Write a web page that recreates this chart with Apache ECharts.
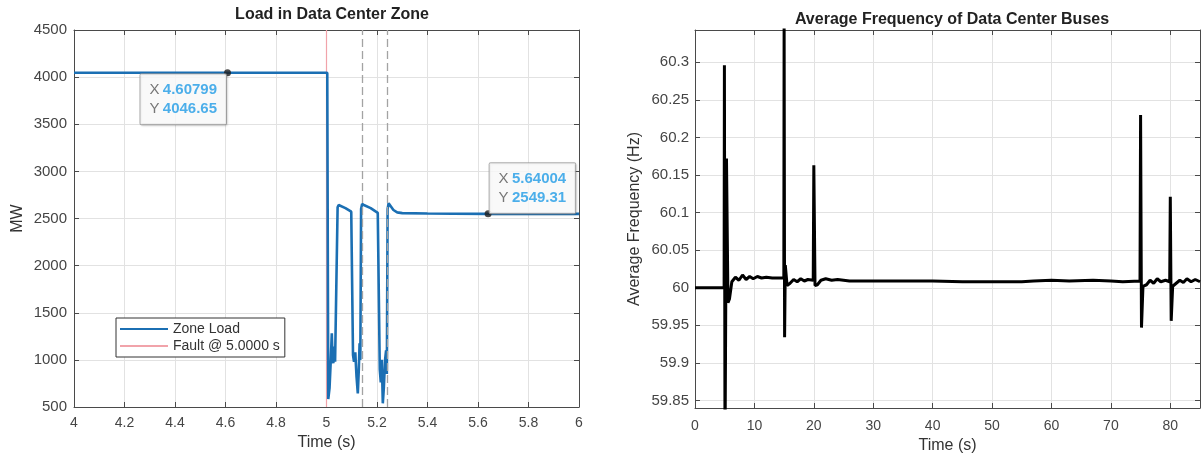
<!DOCTYPE html>
<html>
<head>
<meta charset="utf-8">
<title>Data Center Zone – Load and Frequency</title>
<script src="https://cdn.jsdelivr.net/npm/echarts@6/dist/echarts.min.js"></script>
<style>
  html, body { margin: 0; padding: 0; background: #fff; }
  #chart { width: 1202px; height: 459px; }
</style>
</head>
<body>
<div id="chart"></div>
<script>
// ---- Zone load trace (time in s, load in MW) ----
const loadTime = [
  4.0, 4.60799, 5.003, 5.007, 5.012, 5.017, 5.021, 5.024, 5.027, 5.031, 5.034, 5.038, 5.041,
  5.044, 5.048, 5.055, 5.075, 5.098, 5.101, 5.105, 5.109, 5.114, 5.119, 5.124, 5.128, 5.131,
  5.134, 5.137, 5.141, 5.150, 5.175, 5.203, 5.207, 5.211, 5.215, 5.219, 5.223, 5.227, 5.232,
  5.236, 5.239, 5.242, 5.246, 5.253, 5.265, 5.280, 5.300, 5.400, 5.500, 5.64004, 5.800, 6.0
];
const loadMW = [
  4046.65, 4046.65, 4046.65, 585, 700, 1000, 1282, 1000, 964, 1140, 980, 964, 1000,
  2620, 2643, 2630, 2610, 2572, 2560, 1050, 980, 1080, 820, 645, 900, 1176,
  1000, 2600, 2654, 2640, 2610, 2560, 2550, 900, 760, 1000, 539, 700, 999,
  1100, 850, 2600, 2661, 2640, 2590, 2565, 2557, 2553, 2551, 2549.31, 2549, 2549
];

// Fault instant and recloser markers
const faultTime = 5.0;
const recloseTimes = [5.137, 5.24];
const tagNames = ['R1', 'R2'];
const tagTime = [5.034, 5.267];
const tagMW = [4373, 609];

// Data tips on the load trace
const tipTime = [4.60799, 5.64004];
const tipMW = [4046.65, 2549.31];

// ---- Average bus frequency (time in s, frequency in Hz) ----
const freqTime = [
  0, 4.9, 4.95, 5.05, 5.3, 5.55, 5.8, 6.2, 6.8, 7.4, 8.0, 8.6, 9.2, 9.8, 10.5, 11.2, 12, 13, 14,
  14.95, 15.0, 15.08, 15.2, 15.5, 16, 16.6, 17.2, 17.8, 18.4, 19, 19.9,
  20.0, 20.2, 20.6, 21.2, 22, 23, 24, 26, 30, 35, 40, 45, 50, 55, 57, 60, 63, 67, 70, 72, 74.9,
  75.0, 75.15, 75.4, 76, 76.6, 77.2, 77.8, 78.4, 79.2, 79.9,
  80.0, 80.15, 80.4, 81, 81.6, 82.2, 82.8, 83.5, 84.2, 85
];
const freqHz = [
  60.000, 60.000, 60.296, 59.780, 60.172, 59.980, 59.985, 60.008, 60.014, 60.010, 60.017, 60.011, 60.015, 60.012, 60.015, 60.013, 60.014, 60.013, 60.013,
  60.013, 60.360, 59.934, 60.030, 60.003, 60.006, 60.011, 60.008, 60.012, 60.009, 60.011, 60.010,
  60.163, 60.003, 60.004, 60.010, 60.012, 60.010, 60.011, 60.009, 60.009, 60.009, 60.009, 60.008, 60.008, 60.008, 60.009, 60.010, 60.009, 60.010, 60.009, 60.008, 60.009,
  60.230, 59.947, 60.002, 60.004, 60.010, 60.006, 60.012, 60.008, 60.010, 60.008,
  60.121, 59.956, 60.002, 60.006, 60.010, 60.007, 60.012, 60.008, 60.011, 60.008
];

// Tick labels
const loadXTicks = [4, 4.2, 4.4, 4.6, 4.8, 5, 5.2, 5.4, 5.6, 5.8, 6];
const loadYTicks = [500, 1000, 1500, 2000, 2500, 3000, 3500, 4000, 4500];
const freqXTicks = [0, 10, 20, 30, 40, 50, 60, 70, 80];
const freqYTicks = [59.85, 59.9, 59.95, 60, 60.05, 60.1, 60.15, 60.2, 60.25, 60.3];

const zip = (xs, ys) => xs.map((x, i) => [x, ys[i]]);
const sig6 = v => String(Number(v.toPrecision(6)));
const plain = digits => v => String(Number(v.toFixed(digits)));

const FONT = '"Liberation Sans", Arial, Helvetica, sans-serif';
const AXIS_COLOR = '#4a4a4a';
const LABEL_COLOR = '#454545';
const GRID_COLOR = '#e2e2e2';

function ticks(values) {
  return { show: true, inside: true, length: 5, lineStyle: { color: AXIS_COLOR }, customValues: values };
}
function mainAxis(opts) {
  return Object.assign({
    type: 'value',
    axisLine: { show: true, onZero: false, lineStyle: { color: AXIS_COLOR, width: 1 } },
    splitLine: { show: true, lineStyle: { color: GRID_COLOR, width: 1 } },
    nameLocation: 'middle',
    nameTextStyle: { color: '#333', fontSize: 16, fontFamily: FONT }
  }, opts);
}
function mirrorAxis(opts) {
  return Object.assign({
    type: 'value',
    axisLine: { show: true, onZero: false, lineStyle: { color: AXIS_COLOR, width: 1 } },
    axisLabel: { show: false },
    splitLine: { show: false }
  }, opts);
}
function labels(values, margin, formatter, size) {
  return { color: LABEL_COLOR, fontSize: size || 14, fontFamily: FONT, margin: margin,
    customValues: values, formatter: formatter };
}

const chart = echarts.init(document.getElementById('chart'), null, { renderer: 'canvas' });

const option = {
  animation: false,
  backgroundColor: '#ffffff',
  textStyle: { fontFamily: FONT },
  title: [
    { text: 'Load in Data Center Zone', left: 327, top: 2, textAlign: 'center',
      textStyle: { fontSize: 16, fontWeight: 'bold', color: '#222', fontFamily: FONT } },
    { text: 'Average Frequency of Data Center Buses', left: 947, top: 7, textAlign: 'center',
      textStyle: { fontSize: 16, fontWeight: 'bold', color: '#222', fontFamily: FONT } }
  ],
  grid: [
    { left: 74, top: 30, width: 505, height: 377, containLabel: false },
    { left: 695, top: 30, width: 505, height: 378, containLabel: false }
  ],
  xAxis: [
    mainAxis({ gridIndex: 0, position: 'bottom', min: 4, max: 6, interval: 0.2,
      name: 'Time (s)', nameGap: 28,
      axisLabel: labels(loadXTicks, 9, plain(1)), axisTick: ticks(loadXTicks) }),
    mirrorAxis({ gridIndex: 0, position: 'top', min: 4, max: 6, interval: 0.2,
      axisTick: ticks(loadXTicks) }),
    mainAxis({ gridIndex: 1, position: 'bottom', min: 0, max: 85,
      name: 'Time (s)', nameGap: 29,
      axisLabel: labels(freqXTicks, 11, plain(0)), axisTick: ticks(freqXTicks) }),
    mirrorAxis({ gridIndex: 1, position: 'top', min: 0, max: 85,
      axisTick: ticks(freqXTicks) })
  ],
  yAxis: [
    mainAxis({ gridIndex: 0, position: 'left', min: 500, max: 4500, interval: 500,
      name: 'MW', nameGap: 48,
      axisLabel: labels(loadYTicks, 7, plain(0), 15), axisTick: ticks(loadYTicks) }),
    mirrorAxis({ gridIndex: 0, position: 'right', min: 500, max: 4500, interval: 500,
      axisTick: ticks(loadYTicks) }),
    mainAxis({ gridIndex: 1, position: 'left', min: 59.84, max: 60.343,
      name: 'Average Frequency (Hz)', nameGap: 52,
      axisLabel: labels(freqYTicks, 6, plain(2), 15), axisTick: ticks(freqYTicks) }),
    mirrorAxis({ gridIndex: 1, position: 'right', min: 59.84, max: 60.343,
      axisTick: ticks(freqYTicks) })
  ],
  legend: {
    data: ['Zone Load', 'Fault @ 5.0000 s'],
    orient: 'vertical',
    left: 116, top: 318,
    itemWidth: 48, itemHeight: 14, itemGap: 3,
    padding: [4, 5, 4, 3],
    backgroundColor: '#ffffff',
    borderColor: '#333333', borderWidth: 1, borderRadius: 0,
    itemStyle: { opacity: 0 },
    textStyle: { fontSize: 14, color: '#333', fontFamily: FONT }
  },
  series: [
    {
      name: 'Fault @ 5.0000 s',
      type: 'line', xAxisIndex: 0, yAxisIndex: 0,
      data: [[faultTime, 500], [faultTime, 4500]],
      symbol: 'none', z: 2,
      lineStyle: { color: '#f1a3aa', width: 1.2 },
      itemStyle: { color: '#f1a3aa' }
    },
    {
      name: 'Zone Load',
      type: 'line', xAxisIndex: 0, yAxisIndex: 0,
      data: zip(loadTime, loadMW),
      symbol: 'none', z: 3,
      lineStyle: { color: '#1b6fb3', width: 2.6 },
      itemStyle: { color: '#1b6fb3' },
      markLine: {
        silent: true, symbol: 'none', animation: false,
        label: { show: false },
        lineStyle: { color: '#a3a3a3', width: 1.3, type: [8, 4] },
        data: recloseTimes.map(t => ({ xAxis: t }))
      }
    },
    {
      name: 'tags',
      type: 'scatter', xAxisIndex: 0, yAxisIndex: 0,
      data: tagNames.map((n, i) => ({ name: n, value: [tagTime[i], tagMW[i]] })),
      symbolSize: 1, itemStyle: { opacity: 0 }, z: 5,
      label: { show: true, formatter: '{b}', position: 'right', distance: 0,
        fontSize: 14, color: '#333', fontFamily: FONT }
    },
    {
      name: 'datatips',
      type: 'scatter', xAxisIndex: 0, yAxisIndex: 0,
      symbolSize: 7, z: 6,
      itemStyle: { color: '#1e1e1e' },
      data: tipTime.map((t, i) => ({
        value: [t, tipMW[i]],
        label: i === 0
          ? { position: [2, 5], align: 'right', verticalAlign: 'top' }
          : { position: [5, 3], align: 'left', verticalAlign: 'bottom' }
      })),
      label: {
        show: true,
        formatter: p => '{k|X} {v|' + sig6(p.value[0]) + '}\n{k|Y} {v|' + sig6(p.value[1]) + '}',
        backgroundColor: '#ffffff',
        borderColor: '#9c9c9c', borderWidth: 1, borderRadius: 1,
        padding: [6, 9, 6, 9],
        shadowColor: 'rgba(0,0,0,0.15)', shadowBlur: 2, shadowOffsetX: 1, shadowOffsetY: 1,
        rich: {
          k: { color: '#555', fontSize: 15, lineHeight: 19, fontFamily: FONT },
          v: { color: '#1f9be6', fontSize: 15, lineHeight: 19, fontWeight: 'bold', fontFamily: FONT }
        }
      }
    },
    {
      name: 'Average Frequency',
      type: 'line', xAxisIndex: 2, yAxisIndex: 2,
      data: zip(freqTime, freqHz),
      symbol: 'none', z: 3,
      lineStyle: { color: '#000000', width: 3 },
      itemStyle: { color: '#000000' }
    }
  ]
};

chart.setOption(option);
</script>
</body>
</html>
